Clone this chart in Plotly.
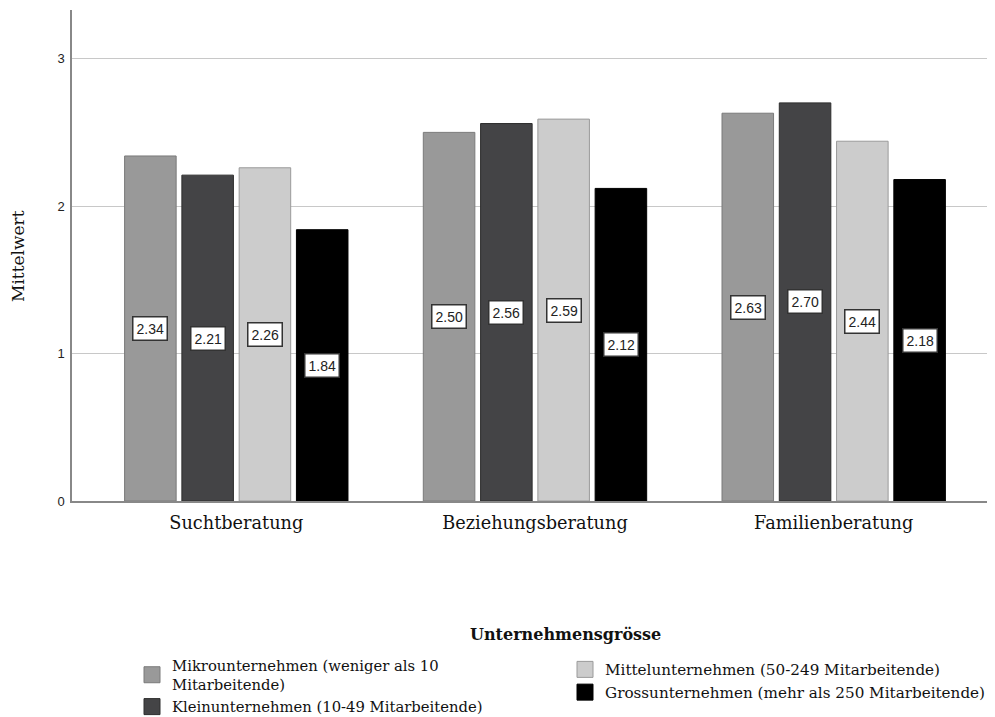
import plotly.graph_objects as go

categories = ["Suchtberatung", "Beziehungsberatung", "Familienberatung"]
series_names = [
    "Mikrounternehmen (weniger als 10<br>Mitarbeitende)",
    "Kleinunternehmen (10-49 Mitarbeitende)",
    "Mittelunternehmen (50-249 Mitarbeitende)",
    "Grossunternehmen (mehr als 250 Mitarbeitende)",
]
mikro = [2.34, 2.50, 2.63]
klein = [2.21, 2.56, 2.70]
mittel = [2.26, 2.59, 2.44]
gross = [1.84, 2.12, 2.18]
values = [mikro, klein, mittel, gross]

fills = ["#999999", "#444446", "#cccccc", "#000000"]
lines = ["#7a7a7a", "#2e2e2e", "#9a9a9a", "#000000"]
legends = ["legend", "legend", "legend2", "legend2"]

serif = "DejaVu Serif"
sans = "Liberation Sans"

bargap = 0.233
bargroupgap = 0.1

# figure geometry (page has an 8px body margin)
W, H = 1010, 730
ML, MR, MT, MB = 64, 23, 2, 237
PW, PH = W - ML - MR, H - MT - MB


def px_to_paper(xf, yf):
    return (xf - ML) / PW, (H - MB - yf) / PH


fig = go.Figure()
for i, (name, vals) in enumerate(zip(series_names, values)):
    fig.add_trace(go.Bar(
        x=categories, y=vals, name=name,
        marker=dict(color=fills[i], line=dict(color=lines[i], width=1)),
        showlegend=False,
    ))
# legend entries with larger square swatches
for i, name in enumerate(series_names):
    fig.add_trace(go.Scatter(
        x=[None], y=[None], mode="markers", name=name,
        marker=dict(symbol="square", size=16, color=fills[i],
                    line=dict(color=lines[i], width=1)),
        legend=legends[i], showlegend=True, hoverinfo="skip",
    ))

# data labels at bar mid-height
n = len(values)
slot = (1 - bargap) / n
for i, vals in enumerate(values):
    for j, v in enumerate(vals):
        fig.add_annotation(
            x=j + (i - (n - 1) / 2) * slot, y=v / 2, xref="x", yref="y",
            text=f"{v:.2f}", showarrow=False,
            font=dict(family=sans, size=14, color="#222222"),
            bgcolor="white", bordercolor="#333333", borderwidth=1.5, borderpad=3,
        )

tx, ty = px_to_paper(557, 626)
fig.add_annotation(
    x=tx, y=ty, xref="paper", yref="paper",
    text="<b>Unternehmensgrösse</b>", showarrow=False,
    font=dict(family=serif, size=16, color="#111111"),
    xanchor="center", yanchor="middle",
)
yx, yy = px_to_paper(10, 248)
fig.add_annotation(
    x=yx, y=yy, xref="paper", yref="paper",
    text="Mittelwert", textangle=-90, showarrow=False,
    font=dict(family=serif, size=17, color="#111111"),
    xanchor="center", yanchor="middle",
)

fig.update_layout(
    width=W, height=H,
    paper_bgcolor="white", plot_bgcolor="white",
    margin=dict(l=ML, r=MR, t=MT, b=MB, autoexpand=False),
    barmode="group", bargap=bargap, bargroupgap=bargroupgap,
    showlegend=True,
    legend=dict(
        xref="container", yref="container",
        x=124 / W, y=1 - 641 / H, xanchor="left", yanchor="top",
        font=dict(family=serif, size=14.8, color="#111111"),
        bgcolor="rgba(0,0,0,0)", tracegroupgap=0, itemwidth=30,
    ),
    legend2=dict(
        xref="container", yref="container",
        x=557 / W, y=1 - 645 / H, xanchor="left", yanchor="top",
        font=dict(family=serif, size=15.2, color="#111111"),
        bgcolor="rgba(0,0,0,0)", tracegroupgap=0, itemwidth=30,
    ),
    xaxis=dict(
        type="category",
        range=[-0.55, 2.54], automargin=False,
        showline=True, linecolor="#888888", linewidth=1.5,
        ticks="outside", ticklen=5, tickcolor="rgba(0,0,0,0)", tickangle=0,
        tickfont=dict(family=serif, size=17.7, color="#111111"),
        showgrid=False,
    ),
    yaxis=dict(
        range=[0, 3.33], automargin=False,
        showline=True, linecolor="#888888", linewidth=1.5,
        tickvals=[0, 1, 2, 3], ticktext=["0", "1", "2", "3"],
        ticks="outside", ticklen=3, tickcolor="rgba(0,0,0,0)",
        tickfont=dict(family=sans, size=13, color="#222222"),
        showgrid=True, gridcolor="#c8c8c8", gridwidth=1,
        zeroline=False,
    ),
)

fig.write_html("out.html")
